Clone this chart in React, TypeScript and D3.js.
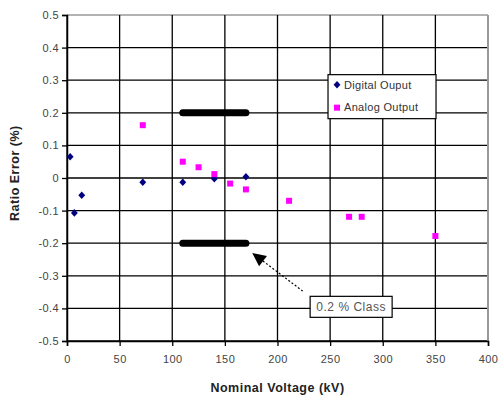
import React, { useEffect, useRef } from "react";
import * as d3 from "d3";

// Digital output measurements (kV, ratio error %)
const digitalVoltage = [3, 7, 14, 72, 110, 140, 170];
const digitalError = [0.065, -0.107, -0.053, -0.013, -0.013, -0.002, 0.004];

// Analog output measurements
const analogVoltage = [72, 110, 125, 140, 155, 170, 211, 268, 280, 350];
const analogError = [0.162, 0.05, 0.033, 0.012, -0.017, -0.035, -0.07, -0.119, -0.119, -0.178];

// 0.2 % class limits
const classStart = 110;
const classEnd = 170;
const classLimits = [0.2, -0.2];

const xTicks = [0, 50, 100, 150, 200, 250, 300, 350, 400];
const yTicks = [0.5, 0.4, 0.3, 0.2, 0.1, 0, -0.1, -0.2, -0.3, -0.4, -0.5];

const seriesNames = ["Digital Ouput", "Analog Output"];

const W = 503;
const H = 396;
const FONT = "'Liberation Sans', Arial, sans-serif";

const App: React.FC = () => {
  const svgRef = useRef<SVGSVGElement | null>(null);

  useEffect(() => {
    const svg = d3.select(svgRef.current);
    svg.selectAll("*").remove();

    const margin = { top: 15, right: 15, bottom: 55, left: 67 };
    const x = d3.scaleLinear().domain([0, 400]).range([margin.left, W - margin.right]);
    const y = d3.scaleLinear().domain([-0.5, 0.5]).range([H - margin.bottom, margin.top]);

    svg.append("rect").attr("width", W).attr("height", H).attr("fill", "#fff");

    // grid
    const grid = svg.append("g");
    grid
      .selectAll("line.h")
      .data(yTicks)
      .enter()
      .append("line")
      .attr("x1", x(0))
      .attr("x2", x(400))
      .attr("y1", (d) => y(d))
      .attr("y2", (d) => y(d))
      .attr("stroke", (d) => (d === 0.5 ? "#999" : "#000"))
      .attr("stroke-width", (d) => (d === 0.5 ? 1.5 : 1.3));
    grid
      .selectAll("line.v")
      .data(xTicks)
      .enter()
      .append("line")
      .attr("x1", (d) => x(d))
      .attr("x2", (d) => x(d))
      .attr("y1", y(0.5))
      .attr("y2", y(-0.5))
      .attr("stroke", (d) => (d === 400 ? "#999" : "#000"))
      .attr("stroke-width", (d) => (d === 400 ? 2 : 1.3));

    // axes
    const fmt = (d: number) => (d === 0 ? "0" : d.toFixed(1));
    const yAxis = svg
      .append("g")
      .attr("transform", `translate(${x(0)},0)`)
      .call(d3.axisLeft(y).tickValues(yTicks).tickSize(5).tickPadding(3).tickFormat(fmt as any));
    const xAxis = svg
      .append("g")
      .attr("transform", `translate(0,${y(-0.5)})`)
      .call(d3.axisBottom(x).tickValues(xTicks).tickSize(5).tickPadding(9));
    [yAxis, xAxis].forEach((a) => {
      a.select(".domain").attr("stroke", "#000").attr("stroke-width", 1.5);
      a.selectAll(".tick line").attr("stroke", "#000").attr("stroke-width", 1.3);
      a.selectAll("text")
        .attr("fill", "#444")
        .style("font-family", FONT)
        .style("font-size", "11px")
        .style("letter-spacing", "0.4px");
    });

    // class limit bars
    svg
      .selectAll("line.cls")
      .data(classLimits)
      .enter()
      .append("line")
      .attr("x1", x(classStart))
      .attr("x2", x(classEnd))
      .attr("y1", (d) => y(d))
      .attr("y2", (d) => y(d))
      .attr("stroke", "#000")
      .attr("stroke-width", 7)
      .attr("stroke-linecap", "round");

    // digital series (navy diamonds)
    const diamond = d3.symbol().type(d3.symbolDiamond2).size(30);
    svg
      .selectAll("path.dig")
      .data(digitalVoltage.map((v, i) => [v, digitalError[i]]))
      .enter()
      .append("path")
      .attr("d", diamond as any)
      .attr("transform", (d) => `translate(${x(d[0])},${y(d[1])}) scale(1,1.1)`)
      .attr("fill", "#000080");

    // analog series (magenta squares)
    svg
      .selectAll("rect.ana")
      .data(analogVoltage.map((v, i) => [v, analogError[i]]))
      .enter()
      .append("rect")
      .attr("x", (d) => x(d[0]) - 3)
      .attr("y", (d) => y(d[1]) - 3)
      .attr("width", 6)
      .attr("height", 6)
      .attr("fill", "#ff00ff");

    // annotation
    const tip: [number, number] = [x(176), y(-0.23)];
    const tail: [number, number] = [x(224), y(-0.347)];
    svg
      .append("line")
      .attr("x1", tail[0])
      .attr("y1", tail[1])
      .attr("x2", tip[0] + 8)
      .attr("y2", tip[1] + 6)
      .attr("stroke", "#000")
      .attr("stroke-width", 1.2)
      .attr("stroke-dasharray", "2,2");
    const ang = Math.atan2(tail[1] - tip[1], tail[0] - tip[0]);
    const len = 15;
    const spread = 0.45;
    svg
      .append("path")
      .attr(
        "d",
        d3.line()([
          tip,
          [tip[0] + len * Math.cos(ang - spread), tip[1] + len * Math.sin(ang - spread)],
          [tip[0] + len * Math.cos(ang + spread), tip[1] + len * Math.sin(ang + spread)],
        ]) + "Z"
      )
      .attr("fill", "#000");

    const box = svg.append("g").attr("transform", `translate(${x(231)},${y(-0.363)})`);
    box.append("rect").attr("width", 82).attr("height", 21).attr("fill", "#fff").attr("stroke", "#000").attr("stroke-width", 1.2);
    box
      .append("text")
      .attr("x", 41)
      .attr("y", 15)
      .attr("text-anchor", "middle")
      .attr("fill", "#555")
      .style("font-family", FONT)
      .style("font-size", "12px")
      .style("letter-spacing", "0.5px")
      .text("0.2 % Class");

    // legend
    const lg = svg.append("g").attr("transform", `translate(${x(248)},${y(0.317)})`);
    lg.append("rect").attr("width", 108).attr("height", 44).attr("fill", "#fff").attr("stroke", "#000").attr("stroke-width", 1.2);
    lg.append("path").attr("d", diamond as any).attr("transform", "translate(9,10) scale(1,1.1)").attr("fill", "#000080");
    lg.append("rect").attr("x", 6).attr("y", 30).attr("width", 6).attr("height", 6).attr("fill", "#ff00ff");
    lg.selectAll("text")
      .data(seriesNames)
      .enter()
      .append("text")
      .attr("x", 16)
      .attr("y", (d, i) => 14 + i * 22)
      .attr("fill", "#333")
      .style("font-family", FONT)
      .style("font-size", "11px")
      .style("letter-spacing", "0.3px")
      .text((d) => d);

    // axis titles
    svg
      .append("text")
      .attr("transform", `translate(19,${y(0.015)}) rotate(-90)`)
      .attr("text-anchor", "middle")
      .attr("fill", "#222")
      .style("font-family", FONT)
      .style("font-size", "12.5px")
      .style("font-weight", "bold")
      .style("letter-spacing", "0.5px")
      .text("Ratio Error (%)");
    svg
      .append("text")
      .attr("x", x(200))
      .attr("y", 392)
      .attr("text-anchor", "middle")
      .attr("fill", "#222")
      .style("font-family", FONT)
      .style("font-size", "12.5px")
      .style("font-weight", "bold")
      .style("letter-spacing", "0.5px")
      .text("Nominal Voltage (kV)");
  }, []);

  return (
    <svg
      ref={svgRef}
      width={W}
      height={H}
      style={{ position: "absolute", left: 0, top: 0 }}
    ></svg>
  );
};

export default App;
